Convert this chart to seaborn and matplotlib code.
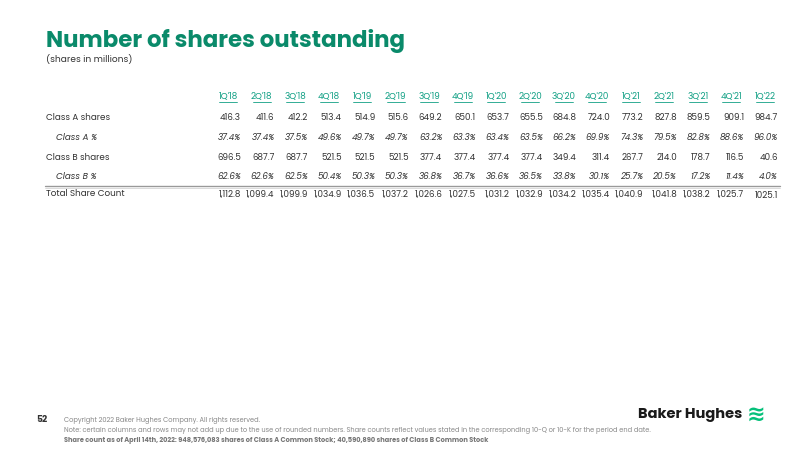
import matplotlib
matplotlib.use("Agg")
import matplotlib.pyplot as plt
import seaborn as sns
import pandas as pd

quarters = ["1Q'18","2Q'18","3Q'18","4Q'18","1Q'19","2Q'19","3Q'19","4Q'19","1Q'20","2Q'20",
            "3Q'20","4Q'20","1Q'21","2Q'21","3Q'21","4Q'21","1Q'22"]
class_a = ["416.3","411.6","412.2","513.4","514.9","515.6","649.2","650.1","653.7","655.5",
           "684.8","724.0","773.2","827.8","859.5","909.1","984.7"]
class_a_pct = ["37.4%","37.4%","37.5%","49.6%","49.7%","49.7%","63.2%","63.3%","63.4%","63.5%",
               "66.2%","69.9%","74.3%","79.5%","82.8%","88.6%","96.0%"]
class_b = ["696.5","687.7","687.7","521.5","521.5","521.5","377.4","377.4","377.4","377.4",
           "349.4","311.4","267.7","214.0","178.7","116.5","40.6"]
class_b_pct = ["62.6%","62.6%","62.5%","50.4%","50.3%","50.3%","36.8%","36.7%","36.6%","36.5%",
               "33.8%","30.1%","25.7%","20.5%","17.2%","11.4%","4.0%"]
total = ["1,112.8","1,099.4","1,099.9","1,034.9","1,036.5","1,037.2","1,026.6","1,027.5","1,031.2",
         "1,032.9","1,034.2","1,035.4","1,040.9","1,041.8","1,038.2","1,025.7","1025.1"]
row_labels = ["Class A shares", "Class A %", "Class B shares", "Class B %", "Total Share Count"]

df = pd.DataFrame([class_a, class_a_pct, class_b, class_b_pct, total], index=row_labels, columns=quarters)

sns.set_theme(style="white")
plt.rcParams['font.family'] = ['Poppins', 'Lato', 'DejaVu Sans']
GREEN = "#0a8a6a"
TEAL = "#12a085"
GREY = "#333333"

fig = plt.figure(figsize=(8, 4.5), dpi=100)
ax = fig.add_axes([0, 0, 1, 1])
ax.set_xlim(0, 800); ax.set_ylim(450, 0); ax.axis("off")

fig.text(46/800, 1-41/450, "Number of shares outstanding", color=GREEN, fontsize=16.5, fontweight="bold", va="center")
fig.text(46/800, 1-59/450, "(shares in millions)", color=GREY, fontsize=6.5, va="center")

x0, dx = 228, 33.55
row_y = [118, 137.5, 157, 176.5, 195]
for j, q in enumerate(df.columns):
    x = x0 + j * dx
    ax.text(x, 97, q, color=TEAL, fontsize=6.3, ha="center", va="center")
    ax.plot([x - 9, x + 9], [101.5, 101.5], color=TEAL, lw=0.6)
    for i, lab in enumerate(df.index):
        italic = "%" in lab
        ax.text(x + 13, row_y[i], df.loc[lab, q], color=GREY, fontsize=6.3, ha="right", va="center",
                style="italic" if italic else "normal")
for i, lab in enumerate(df.index):
    italic = "%" in lab
    ax.text(56 if italic else 46, row_y[i] - (1 if i == 4 else 0), lab, color=GREY, fontsize=6.3, va="center",
            style="italic" if italic else "normal")
ax.plot([45, 780], [186, 186], color="#999999", lw=1.0)
ax.plot([45, 780], [187.5, 187.5], color="#cccccc", lw=0.5)

ax.text(36, 419, "52", color=GREY, fontsize=6.5, fontweight="bold", va="center")
ax.text(64, 420, "Copyright 2022 Baker Hughes Company. All rights reserved.", color="#888888", fontsize=4.8, va="center")
ax.text(64, 431, "Note: certain columns and rows may not add up due to the use of rounded numbers. Share counts reflect values stated in the corresponding 10-Q or 10-K for the period end date.",
        color="#888888", fontsize=4.8, va="center")
ax.text(64, 440, "Share count as of April 14th, 2022: 948,576,083 shares of Class A Common Stock; 40,590,890 shares of Class B Common Stock",
        color="#777777", fontsize=4.8, fontweight="bold", va="center")
ax.text(742, 415, "Baker Hughes", color="#1a1a1a", fontsize=10.5, fontweight="bold", ha="right", va="center")
ax.text(756, 415, "≋", color="#05c07a", fontsize=16, fontweight="bold", ha="center", va="center")

fig.savefig("out.png", dpi=100)
